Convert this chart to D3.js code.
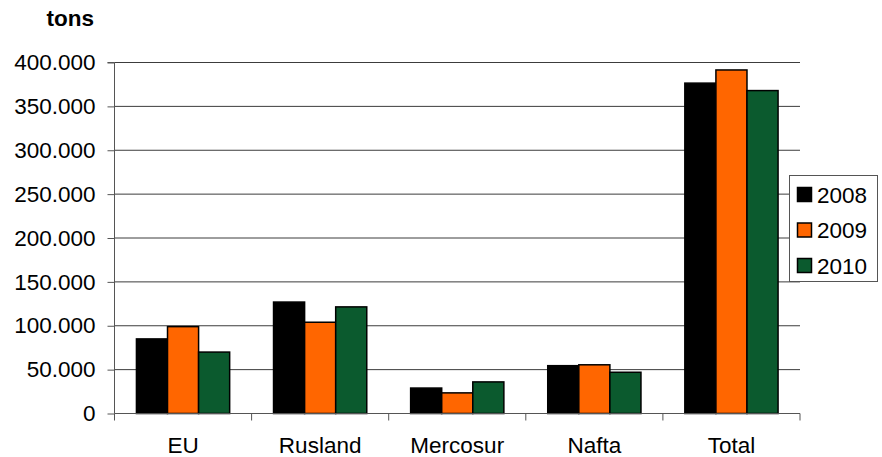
<!DOCTYPE html>
<html>
<head>
<meta charset="utf-8">
<script src="https://cdn.jsdelivr.net/npm/d3@7"></script>
<style>
  html, body { margin: 0; padding: 0; background: #fff; }
  svg { display: block; font-family: "Liberation Sans", Arial, sans-serif; }
</style>
</head>
<body>
<svg id="chart" width="882" height="457"></svg>
<script>
const categories = ["EU", "Rusland", "Mercosur", "Nafta", "Total"];
const seriesNames = ["2008", "2009", "2010"];
const values2008 = [85000, 127000, 29000, 54500, 376500];
const values2009 = [99000, 104000, 23500, 55500, 391500];
const values2010 = [70000, 121500, 36000, 47000, 368000];
const yTicks = [0, 50000, 100000, 150000, 200000, 250000, 300000, 350000, 400000];
const colors = ["#000000", "#FF6600", "#0B5A2E"];
const yLabel = "tons";

const seriesValues = [values2008, values2009, values2010];

const svg = d3.select("#chart");
const plotLeft = 114.5, plotRight = 800, plotTop = 62.5, plotBottom = 413.5;
const fontSize = "22.5px";

const locale = d3.formatLocale({decimal: ",", thousands: ".", grouping: [3], currency: ["", ""]});
const fmt = locale.format(",");

const y = d3.scaleLinear().domain([0, 400000]).range([plotBottom, plotTop]);
const x0 = d3.scaleBand().domain(categories).range([plotLeft, plotRight]).padding(0);
const bw = x0.bandwidth();
const x1 = d3.scaleBand().domain(seriesNames).range([bw * 0.16, bw * 0.84]).padding(0);

// gridlines
svg.append("g")
  .selectAll("line")
  .data(yTicks.filter(d => d > 0))
  .join("line")
  .attr("x1", plotLeft).attr("x2", plotRight)
  .attr("y1", d => y(d)).attr("y2", d => y(d))
  .attr("stroke", "#3c3c3c").attr("stroke-width", 1);

// bars
const groups = svg.append("g")
  .selectAll("g")
  .data(categories)
  .join("g")
  .attr("transform", c => `translate(${x0(c)},0)`);

groups.selectAll("rect")
  .data((c, i) => seriesNames.map((s, j) => ({s, j, v: seriesValues[j][i]})))
  .join("rect")
  .attr("x", d => x1(d.s))
  .attr("width", x1.bandwidth())
  .attr("y", d => y(d.v))
  .attr("height", d => y(0) - y(d.v))
  .attr("fill", d => colors[d.j])
  .attr("stroke", "#000")
  .attr("stroke-width", 1.5);

// y axis
const yAxis = d3.axisLeft(y).tickValues(yTicks).tickFormat(fmt).tickSize(7).tickPadding(12);
const yg = svg.append("g").attr("transform", `translate(${plotLeft},0)`).call(yAxis);
yg.select(".domain").attr("stroke", "#555").attr("d", `M-7,${plotTop}H0V${plotBottom}`);
yg.selectAll(".tick line").attr("stroke", "#555");
yg.selectAll(".tick text").attr("font-size", fontSize).attr("fill", "#000")
  .attr("font-family", "'Liberation Sans', Arial, sans-serif");

// x axis
const xAxis = d3.axisBottom(x0).tickSize(0).tickPadding(0);
const xg = svg.append("g").attr("transform", `translate(0,${plotBottom})`).call(xAxis);
xg.select(".domain").attr("stroke", "#555").attr("d", `M${plotLeft},0H${plotRight}`);
xg.selectAll(".tick text").attr("font-size", fontSize).attr("fill", "#000")
  .attr("dy", null).attr("y", 39.5)
  .attr("font-family", "'Liberation Sans', Arial, sans-serif");
// category boundary ticks
svg.append("g")
  .selectAll("line")
  .data(categories.map(c => x0(c)).concat([plotRight]))
  .join("line")
  .attr("x1", d => d).attr("x2", d => d)
  .attr("y1", plotBottom).attr("y2", plotBottom + 7)
  .attr("stroke", "#555");

// y label
svg.append("text")
  .attr("x", 94).attr("y", 26)
  .attr("text-anchor", "end")
  .attr("font-size", fontSize).attr("font-weight", "bold")
  .text(yLabel);

// legend
const lg = svg.append("g");
lg.append("rect")
  .attr("x", 789.5).attr("y", 175.5).attr("width", 88).attr("height", 106)
  .attr("fill", "#fff").attr("stroke", "#555").attr("stroke-width", 1);
const items = lg.selectAll("g.item")
  .data(seriesNames)
  .join("g")
  .attr("class", "item")
  .attr("transform", (d, i) => `translate(0,${194.5 + i * 35.5})`);
items.append("rect")
  .attr("x", 797.5).attr("y", -7).attr("width", 14).attr("height", 14)
  .attr("fill", (d, i) => colors[i]).attr("stroke", "#000").attr("stroke-width", 1.5);
items.append("text")
  .attr("x", 817).attr("y", 8)
  .attr("font-size", fontSize)
  .text(d => d);
</script>
</body>
</html>
